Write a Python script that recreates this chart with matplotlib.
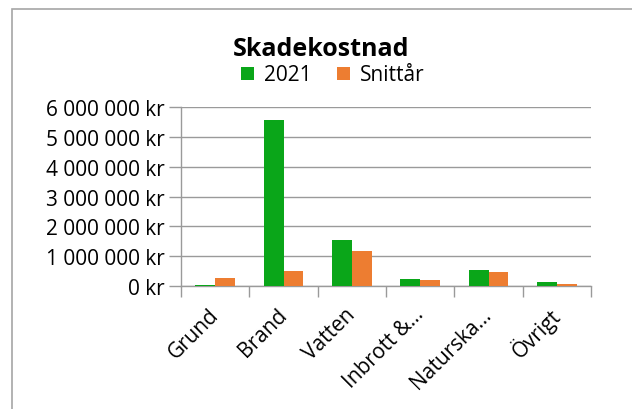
import matplotlib.pyplot as plt
import numpy as np
from matplotlib.patches import Rectangle
from matplotlib.ticker import FuncFormatter, FixedLocator

plt.rcParams['font.family'] = ['Open Sans', 'DejaVu Sans']

kategorier = ['Grund', 'Brand', 'Vatten', 'Inbrott &…', 'Naturska…', 'Övrigt']
v2021 = [33000, 5590000, 1553000, 223000, 525000, 145000]
snittar = [268000, 503000, 1173000, 212000, 480000, 78000]

green = '#0AA619'
orange = '#ED7D31'
grey = '#9a9a9a'

fig = plt.figure(figsize=(6.32, 4.1), dpi=100)
ax = fig.add_axes([181/632, 1-287/410, (591-181)/632, (287-108.3)/410])

x = np.arange(len(kategorier))
w = 0.29
ax.bar(x - w/2, v2021, w, color=green, label='2021', zorder=3)
ax.bar(x + w/2, snittar, w, color=orange, label='Snittår', zorder=3)

ax.set_xlim(-0.5, len(kategorier) - 0.5)
ax.set_ylim(0, 6000000)
ax.set_yticks(np.arange(0, 6000001, 1000000))
ax.yaxis.set_major_formatter(FuncFormatter(lambda v, p: '{:,.0f} kr'.format(v).replace(',', ' ')))
ax.tick_params(axis='y', length=9, color=grey, width=1, labelsize=15, pad=3)
ax.grid(axis='y', color=grey, linewidth=1, zorder=0)

ax.set_xticks(x)
ax.set_xticklabels(kategorier, rotation=45, ha='right', va='center',
                   rotation_mode='anchor', fontsize=15)
ax.tick_params(axis='x', which='major', length=0, pad=18)
ax.xaxis.set_minor_locator(FixedLocator(np.arange(-0.5, len(kategorier), 1)))
ax.tick_params(axis='x', which='minor', length=8, color=grey, width=1)

for s in ['top', 'right']:
    ax.spines[s].set_visible(False)
for s in ['left', 'bottom']:
    ax.spines[s].set_color(grey)
    ax.spines[s].set_linewidth(1)

fig.text(321/632, 1-50/410, 'Skadekostnad', ha='center', va='center',
         fontsize=18, fontweight='bold')
fig.legend(loc='center', bbox_to_anchor=(333/632, 1-76/410), ncol=2, frameon=False,
           fontsize=15, handlelength=0.6, handleheight=0.6, columnspacing=1.2,
           handletextpad=0.5, borderpad=0)

fig.patches.append(Rectangle((12/632, -0.1), 1.2, 1 - 10/410 + 0.1,
                             transform=fig.transFigure, fill=False,
                             edgecolor='#a6a6a6', linewidth=1.2))

fig.savefig('out.png', dpi=100)
